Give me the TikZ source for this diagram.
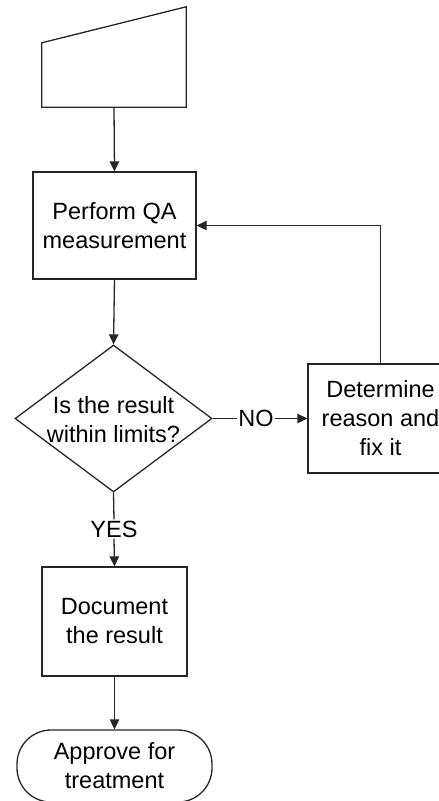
\documentclass[tikz,border=0pt]{standalone}
\usepackage{fontspec}
\setmainfont{Liberation Sans}
\usetikzlibrary{arrows.meta,shapes.geometric}

\begin{document}
\begin{tikzpicture}[x=1pt,y=1pt]
    % -----------------------------
    % Parameters (tweak as needed)
    % -----------------------------
    \def\lw{1.3pt}        % line width (uniform)
    \def\colX{114}        % x of the main column
    \def\slant{36}        % drop of the left top corner of the input box

    % Label font for all the boxes
    \newcommand{\boxfont}{\fontsize{23.5pt}{29pt}\selectfont}

    % -----------------------------
    % Styles
    % -----------------------------
    \tikzset{
      schem/.style={draw=black!85, line width=\lw, line join=miter},
      flow/.style={schem, -{Triangle[length=10pt,width=9.5pt]}},
      procbox/.style={schem, rectangle, align=center, inner sep=0pt, font=\boxfont},
      tag/.style={inner sep=1pt, font=\boxfont}
    }

    % fixes the page to the size of the reference
    \useasboundingbox (0,0) rectangle (439,-801);

    % -----------------------------
    % Main column
    % -----------------------------
    \node[rectangle, minimum width=144, minimum height=100] (input) at (\colX,-57) {};
    \draw[schem] (input.south west) -- (input.south east) -- (input.north east)
      -- ([yshift=-\slant]input.north west) -- cycle;

    \node[procbox, minimum width=163, minimum height=107] (perform) at (114.5,-225.5)
      {Perform QA\\measurement};

    \node[schem, diamond, minimum width=197, minimum height=147, inner sep=0pt,
      label={[align=center, font=\boxfont, yshift=-1pt]center:Is the result\\within limits?}]
      (check) at (113.5,-418.5) {};

    \node[tag] (yes) at (\colX,-529) {YES};

    \node[procbox, minimum width=145, minimum height=109] (doc) at (114.5,-621.5)
      {Document\\the result};

    \node[procbox, minimum width=195, minimum height=72, rounded corners=34pt]
      (approve) at (114.5,-766) {Approve for\\treatment};

    % -----------------------------
    % Side branch (NO)
    % -----------------------------
    \node[tag] (no) at (256,-418.5) {NO};
    \node[procbox, minimum width=145, minimum height=109] (fix) at (380.5,-418.5)
      {Determine\\reason and\\fix it};

    % -----------------------------
    % Connectors
    % -----------------------------
    \draw[flow] (input.south) -- (perform.north);
    \draw[flow] (perform.south) -- (check.north);
    \draw[schem] (check.south) -- (yes.north);
    \draw[flow] (yes.south) -- (doc.north);
    \draw[flow] (doc.south) -- (approve.north);
    \draw[schem] (check.east) -- (no.west);
    \draw[flow] (no.east) -- (fix.west);
    \draw[flow] (fix.north) |- (perform.east);

\end{tikzpicture}
\end{document}
